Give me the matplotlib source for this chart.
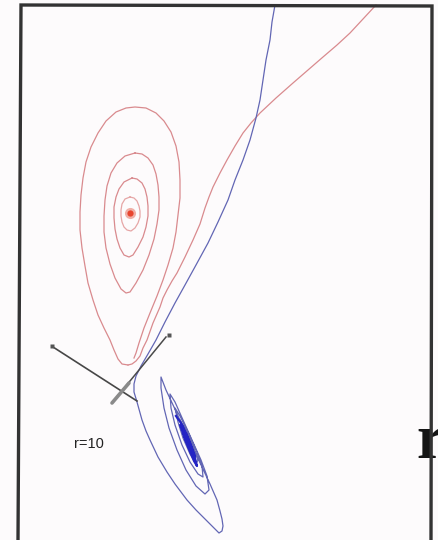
import numpy as np
import matplotlib.pyplot as plt

# frame
frame_x = [18, 21, 432, 431]
frame_y = [540, 5, 6, 540]

# red trajectory coming in from the top edge down to the saddle
red_long_x = [376, 363, 350, 337, 323, 308, 293, 276, 260, 251, 243, 235, 227, 220, 213, 209, 205, 200, 193, 185, 177, 172, 167, 163, 160, 153, 147, 143, 140, 136, 132, 128]
red_long_y = [5, 19, 33, 45, 57, 70, 83, 98, 113, 123, 133, 146, 160, 173, 187, 197, 208, 224, 240, 257, 273, 281, 290, 298, 307, 323, 340, 348, 356, 361, 364, 365]

# outer red teardrop around the left fixed point
red_a_x = [128, 122, 118, 114, 110, 104, 98, 93, 88, 85, 82, 80, 80, 81, 83, 86, 91, 98, 106, 116, 126, 135, 146, 156, 164, 171, 176, 179, 180,
           180, 178, 176, 173, 168, 163, 157, 150, 144, 139, 136, 134]
red_a_y = [365, 364, 359, 350, 340, 328, 315, 300, 283, 266, 248, 230, 212, 195, 178, 162, 147, 133, 121, 112, 108, 107, 108, 113, 121, 132, 146, 162, 180,
           198, 215, 232, 248, 265, 280, 296, 313, 328, 343, 353, 358]

# inner red rings
red_b_x = [135, 142, 148, 153, 156, 158, 159, 159, 157, 154, 149, 143, 136, 130, 126, 121, 115, 110, 106, 104, 104, 105, 107, 111, 117, 125, 135]
red_b_y = [153, 154, 158, 165, 174, 185, 197, 210, 224, 239, 255, 270, 283, 292, 293, 289, 278, 264, 248, 232, 216, 200, 186, 173, 163, 156, 153]
red_c_x = [132, 137, 142, 145, 147, 148, 148, 146, 143, 138, 133, 129, 124, 120, 117, 115, 114, 114, 116, 119, 124, 132]
red_c_y = [178, 179, 183, 189, 197, 206, 216, 227, 237, 247, 255, 257, 255, 248, 239, 229, 218, 207, 197, 189, 182, 178]
red_d_x = [130, 134, 137, 139, 140, 140, 138, 135, 131, 127, 124, 122, 121, 121, 122, 125, 130]
red_d_y = [197, 198, 201, 206, 211, 217, 223, 228, 231, 230, 227, 222, 216, 210, 204, 199, 197]
red_fix = (130, 213)

# blue trajectory: from the top edge, past the saddle, spiralling into the right fixed point
blue_x = [275, 272, 270, 266, 263, 260, 256, 250, 243, 235, 228, 218, 208, 196, 185, 175, 165, 156, 148, 141, 136,
          134, 134, 137, 142, 146, 150, 158, 167, 175, 181, 187, 196, 206, 214, 219,
          222, 223, 222, 220, 217, 210, 202, 193, 183, 174, 166, 161,
          161, 164, 169, 177, 186, 196, 205, 209, 207, 201, 192, 183, 175, 170,
          171, 175, 182, 190, 198, 203, 202, 196, 188, 180, 175,
          178, 183, 190, 196, 198, 193, 186, 180]
blue_y = [5, 22, 40, 60, 80, 100, 118, 140, 160, 180, 200, 222, 243, 265, 285, 303, 322, 340, 354, 366, 376,
          384, 392, 402, 420, 431, 440, 457, 472, 484, 492, 500, 510, 520, 528, 533,
          531, 526, 519, 511, 500, 484, 467, 448, 427, 407, 390, 377,
          388, 408, 428, 450, 470, 486, 494, 490, 476, 460, 440, 420, 402, 394,
          408, 425, 445, 462, 474, 477, 466, 450, 432, 416, 408,
          422, 438, 454, 464, 460, 446, 430, 420]

# dense dark core of the blue spiral
core_x = [176, 181, 186, 191, 195, 197, 194, 189, 184, 180, 182, 187, 192, 195, 191, 186, 183, 186, 190, 193, 189, 185]
core_y = [416, 423, 434, 447, 458, 466, 461, 449, 436, 425, 425, 436, 448, 456, 452, 441, 432, 433, 443, 452, 447, 438]

# black eigen-direction segments at the saddle
blk1_x = [53, 137]
blk1_y = [347, 401]
blk2_x = [112, 166]
blk2_y = [403, 337]
blk2_low_x = [112, 129]
blk2_low_y = [403, 383]
mark_x = [52, 169]
mark_y = [346, 335]

fig = plt.figure(figsize=(4.39, 5.40), dpi=100)
fig.patch.set_facecolor("#fdfbfc")
ax = fig.add_axes([0, 0, 1, 1])
ax.set_facecolor("#fdfbfc")
ax.set_xlim(0, 439)
ax.set_ylim(540, 0)
ax.axis("off")

red = "#d98a8e"
ax.plot(red_long_x, red_long_y, color=red, lw=0.9)
ax.plot(red_a_x, red_a_y, color=red, lw=0.9)
ax.plot(red_b_x, red_b_y, color=red, lw=0.9)
ax.plot(red_c_x, red_c_y, color=red, lw=0.9)
ax.plot(red_d_x, red_d_y, color="#e6a6a6", lw=0.9)
ax.plot(*red_fix, "o", color="#f0b0a8", ms=8, mec="none")
ax.plot(*red_fix, "o", color="#e8452e", ms=4.5, mec="none")

ax.plot(blue_x, blue_y, color="#6266b4", lw=0.9)
ax.plot(core_x, core_y, color="#2424c4", lw=1.6)

ax.plot(blk1_x, blk1_y, color="#474747", lw=1.2)
ax.plot(blk2_x, blk2_y, color="#4a4a4a", lw=1.1)
ax.plot(blk2_low_x, blk2_low_y, color="#8a8a8a", lw=2.6, solid_capstyle="round")
ax.plot(mark_x, mark_y, "s", color="#555555", ms=2.5, mec="none")

ax.text(89, 444, "r=10", fontsize=10.5, family="Liberation Sans", color="#222222",
        ha="center", va="center")
ax.text(416, 458, "r", fontsize=45, family="Liberation Serif", weight="bold", color="#151515",
        ha="left", va="baseline", zorder=3)

ax.plot(frame_x, frame_y, color="#333333", lw=2.4, zorder=4, solid_joinstyle="miter")

plt.savefig("out.png", dpi=100, facecolor=fig.get_facecolor())
